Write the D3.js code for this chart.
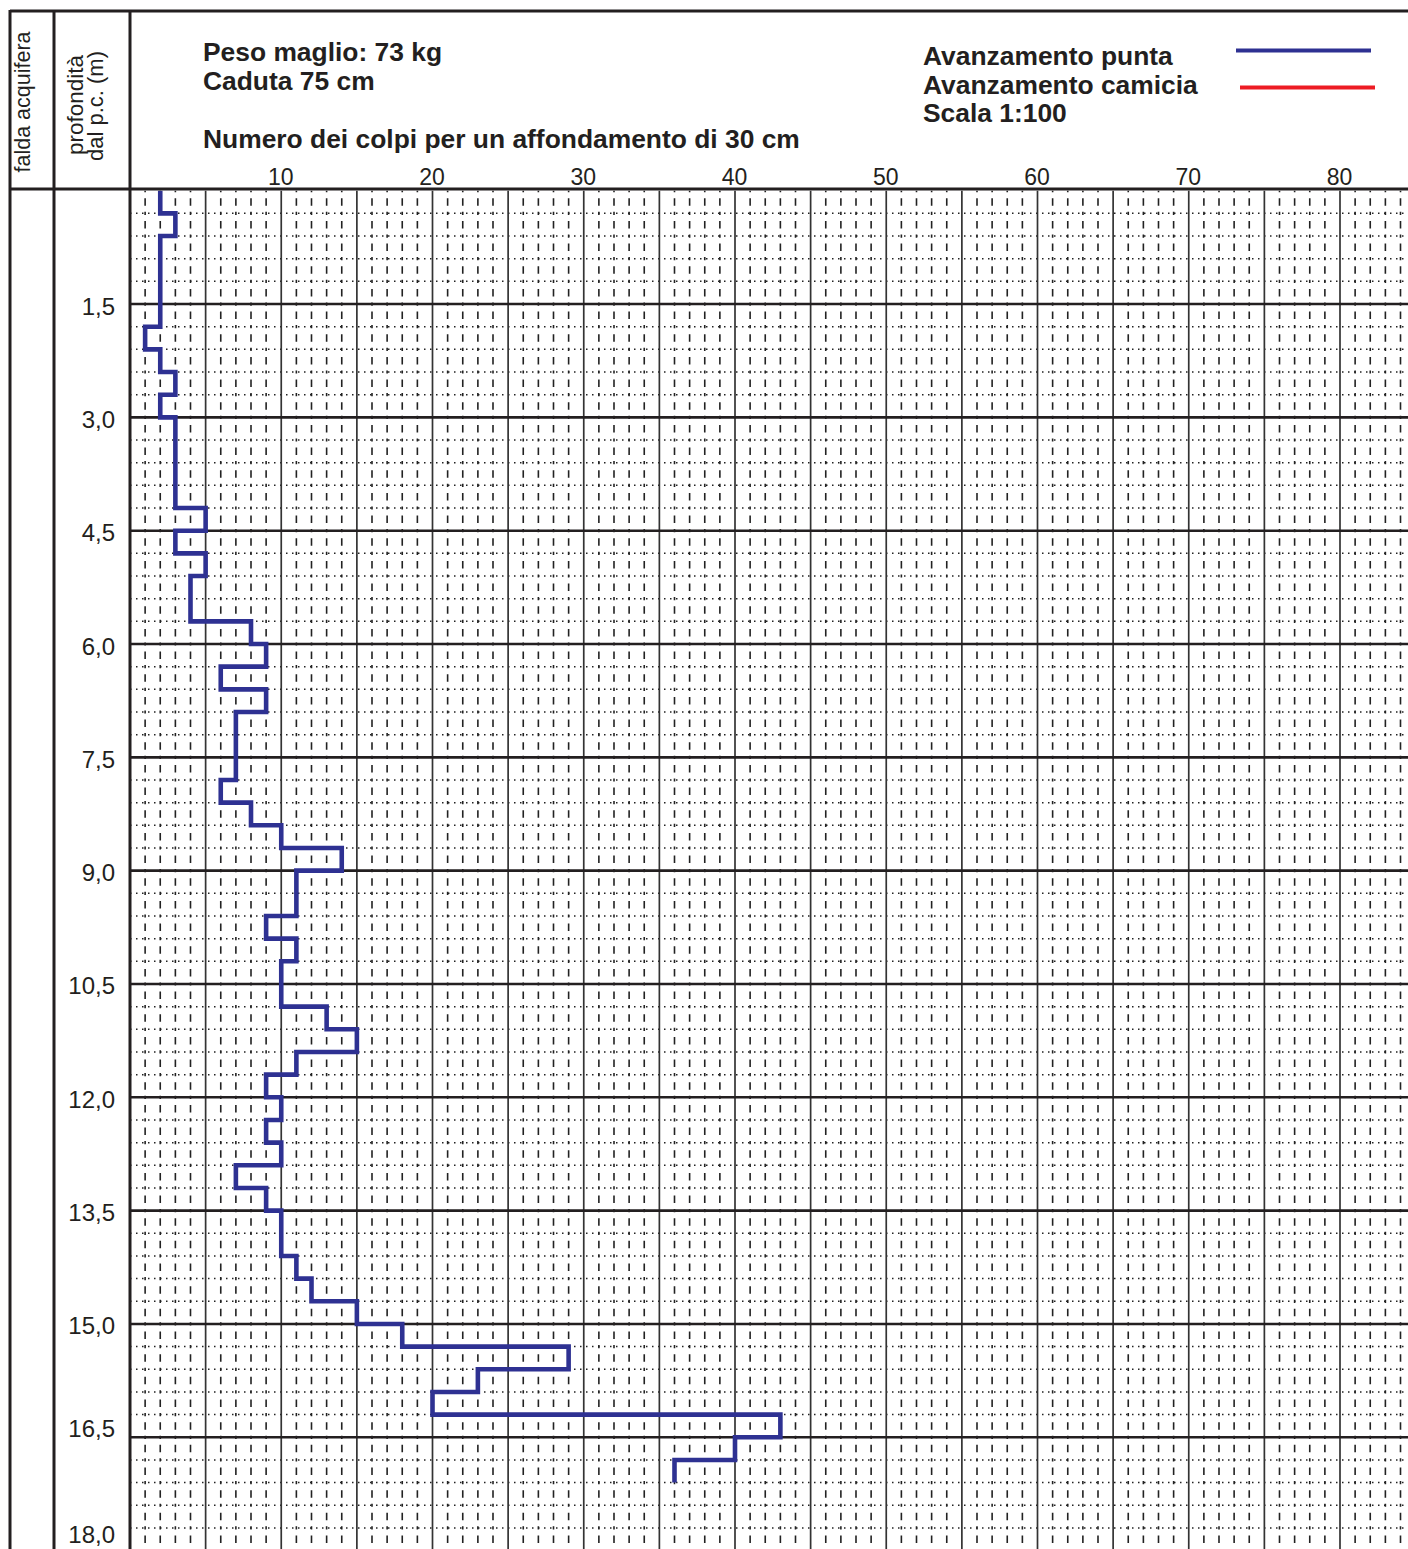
<!DOCTYPE html>
<html>
<head>
<meta charset="utf-8">
<script src="https://cdn.jsdelivr.net/npm/d3@7/dist/d3.min.js"></script>
<style>
  body { margin: 0; background: #fff; }
  svg { display: block; font-family: "Liberation Sans", Arial, Helvetica, sans-serif; }
</style>
</head>
<body>
<svg id="chart"></svg>
<script>
// top of every 30 cm step (m)
var depths = [0.0, 0.3, 0.6, 0.9, 1.2, 1.5, 1.8, 2.1, 2.4, 2.7,
              3.0, 3.3, 3.6, 3.9, 4.2, 4.5, 4.8, 5.1, 5.4, 5.7,
              6.0, 6.3, 6.6, 6.9, 7.2, 7.5, 7.8, 8.1, 8.4, 8.7,
              9.0, 9.3, 9.6, 9.9, 10.2, 10.5, 10.8, 11.1, 11.4, 11.7,
              12.0, 12.3, 12.6, 12.9, 13.2, 13.5, 13.8, 14.1, 14.4, 14.7,
              15.0, 15.3, 15.6, 15.9, 16.2, 16.5, 16.8];
// blows per 30 cm (avanzamento punta)
var blows = [2, 3, 2, 2, 2, 2, 1, 2, 3, 2,
             3, 3, 3, 3, 5, 3, 5, 4, 4, 8,
             9, 6, 9, 7, 7, 7, 6, 8, 10, 14,
             11, 11, 9, 11, 10, 10, 13, 15, 11, 9,
             10, 9, 10, 7, 9, 10, 10, 11, 12, 15,
             18, 29, 23, 20, 43, 40, 36];
var stepLen = 0.3;

var blowTicks = [10, 20, 30, 40, 50, 60, 70, 80];
var depthTicks = [1.5, 3.0, 4.5, 6.0, 7.5, 9.0, 10.5, 12.0, 13.5, 15.0, 16.5, 18.0];
var depthLabels = ["1,5", "3,0", "4,5", "6,0", "7,5", "9,0", "10,5", "12,0", "13,5", "15,0", "16,5", "18,0"];

var headerLines = ["Peso maglio: 73 kg", "Caduta 75 cm"];
var axisTitle = "Numero dei colpi per un affondamento di 30 cm";
var legendNames = ["Avanzamento punta", "Avanzamento camicia"];
var legendColors = ["#2e3192", "#ed1c24"];
var scaleNote = "Scala 1:100";
var colTitles = ["falda acquifera", "profondità", "dal p.c. (m)"];

var W = 1408, H = 1549;
var ink = "#231f20";

var svg = d3.select("#chart").attr("width", W).attr("height", H);
svg.append("rect").attr("width", W).attr("height", H).attr("fill", "#fff");

var x = d3.scaleLinear().domain([0, 80]).range([130, 1340]),
    y = d3.scaleLinear().domain([0, 18]).range([190.7, 1550.6]);

var row = y(stepLen) - y(0);   // height of a 30 cm cell in px
var xMax = x.invert(W);

// ---- grid ----
var grid = svg.append("g");

// dotted horizontals every 30 cm
grid.selectAll(".hmin")
  .data(d3.range(1, 61).map(function(i){ return i * stepLen; }).filter(function(d, i){ return (i + 1) % 5 != 0; }))
  .enter().append("line")
  .attr("x1", x(0)).attr("x2", W)
  .attr("y1", function(d){ return y(d); }).attr("y2", function(d){ return y(d); })
  .attr("stroke", "#222").attr("stroke-width", 1.5)
  .attr("stroke-dasharray", "1.5 4.5");

// dashed verticals every blow
var gap = (row - 1.6 - 1.6 - 7.5) / 2;
grid.selectAll(".vmin")
  .data(d3.range(1, Math.floor(xMax) + 1).filter(function(d){ return d % 5 != 0; }))
  .enter().append("line")
  .attr("x1", function(d){ return x(d); }).attr("x2", function(d){ return x(d); })
  .attr("y1", y(0)).attr("y2", H)
  .attr("stroke", "#222").attr("stroke-width", 1.6)
  .attr("stroke-dasharray", [1.6, gap, 7.5, gap, 1.6, 0].join(" "));

// solid verticals every 5 blows
grid.selectAll(".vmaj")
  .data(d3.range(5, xMax, 5))
  .enter().append("line")
  .attr("x1", function(d){ return x(d); }).attr("x2", function(d){ return x(d); })
  .attr("y1", y(0)).attr("y2", H)
  .attr("stroke", "#333").attr("stroke-width", 1.7);

// thick horizontals every 1,5 m
grid.selectAll(".hmaj")
  .data(depthTicks)
  .enter().append("line")
  .attr("x1", x(0)).attr("x2", W)
  .attr("y1", function(d){ return y(d); }).attr("y2", function(d){ return y(d); })
  .attr("stroke", ink).attr("stroke-width", 2.6);

// ---- step profile ----
var pts = [];
depths.forEach(function(d, i){
  pts.push([blows[i], d]);
  pts.push([blows[i], d + stepLen]);
});
var line = d3.line()
  .x(function(d){ return x(d[0]); })
  .y(function(d){ return y(d[1]); });

svg.append("path")
  .datum(pts)
  .attr("d", line)
  .attr("fill", "none")
  .attr("stroke", legendColors[0])
  .attr("stroke-width", 4.6)
  .attr("stroke-linejoin", "miter");

// ---- frame ----
var frame = svg.append("g").attr("stroke", ink).attr("stroke-width", 3);
frame.append("line").attr("x1", 10).attr("x2", W).attr("y1", 11).attr("y2", 11);
frame.append("line").attr("x1", 10).attr("x2", W).attr("y1", 189).attr("y2", 189);
[10, 54, 130].forEach(function(cx){
  frame.append("line").attr("x1", cx).attr("x2", cx).attr("y1", 10).attr("y2", H);
});

// ---- column titles ----
svg.append("text")
  .attr("transform", "translate(30,102) rotate(-90)")
  .attr("text-anchor", "middle")
  .style("font-size", "21.5px").attr("fill", ink)
  .text(colTitles[0]);
svg.append("text")
  .attr("transform", "translate(83,105) rotate(-90)")
  .attr("text-anchor", "middle")
  .style("font-size", "22.5px").attr("fill", ink)
  .text(colTitles[1]);
svg.append("text")
  .attr("transform", "translate(103,106) rotate(-90)")
  .attr("text-anchor", "middle")
  .style("font-size", "22px").attr("fill", ink)
  .text(colTitles[2]);

// ---- header texts ----
var head = svg.append("g")
  .style("font-size", "26.4px").style("font-weight", "bold").attr("fill", ink);
head.selectAll(".hl")
  .data(headerLines).enter().append("text")
  .attr("x", 203)
  .attr("y", function(d, i){ return 61 + i * 29; })
  .text(function(d){ return d; });
head.append("text").attr("x", 203).attr("y", 148).text(axisTitle);

head.selectAll(".lg")
  .data(legendNames.concat([scaleNote])).enter().append("text")
  .attr("x", 923)
  .attr("y", function(d, i){ return 65 + i * 28.7; })
  .text(function(d){ return d; });

svg.selectAll(".lgline")
  .data(legendColors).enter().append("line")
  .attr("x1", function(d, i){ return 1236 + i * 4; })
  .attr("x2", function(d, i){ return 1371 + i * 4; })
  .attr("y1", function(d, i){ return 50.5 + i * 37; })
  .attr("y2", function(d, i){ return 50.5 + i * 37; })
  .attr("stroke", function(d){ return d; })
  .attr("stroke-width", 4.2);

// ---- top axis labels ----
var topAxis = d3.axisTop(x).tickValues(blowTicks).tickSize(0).tickPadding(4);
var ta = svg.append("g").attr("transform", "translate(-1,189)").call(topAxis);
ta.select(".domain").remove();
ta.selectAll("text")
  .style("font-family", "'Liberation Sans', Arial, sans-serif")
  .style("font-size", "23px")
  .attr("fill", ink);

// ---- depth labels ----
var labelY = d3.scaleLinear()
  .domain([1.5, 15, 16.5, 18])
  .range([y(1.5) + 11, y(15) + 10, y(16.5), y(18) - 8]);
svg.selectAll(".dl")
  .data(depthTicks).enter().append("text")
  .attr("x", 115)
  .attr("y", function(d){ return labelY(d); })
  .attr("text-anchor", "end")
  .style("font-size", "24px")
  .attr("fill", ink)
  .text(function(d, i){ return depthLabels[i]; });
</script>
</body>
</html>
